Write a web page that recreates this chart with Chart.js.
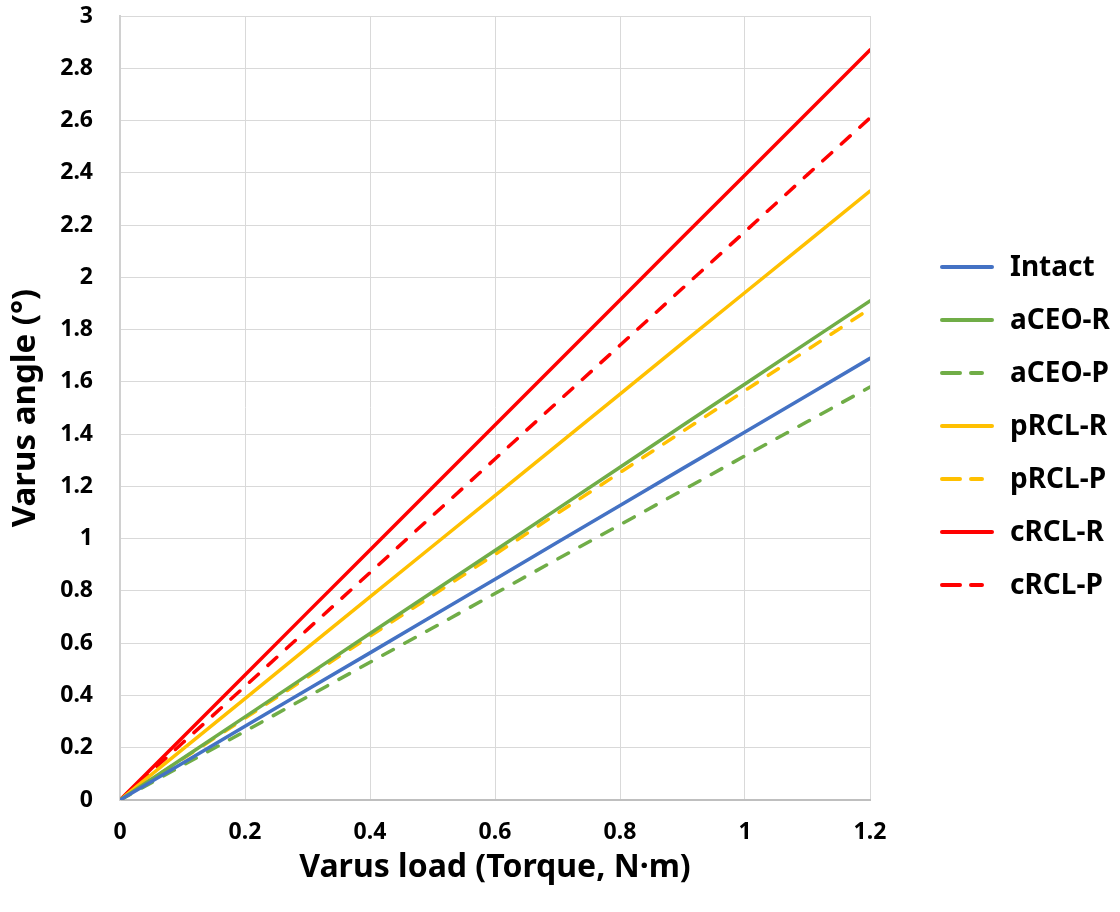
<!DOCTYPE html>
<html>
<head>
<meta charset="utf-8">
<script src="https://cdn.jsdelivr.net/npm/chart.js@4"></script>
<style>
  html, body { margin: 0; padding: 0; background: #fff; }
  #wrap { width: 1120px; height: 912px; }
</style>
</head>
<body>
<div id="wrap"><canvas id="chart" width="1120" height="912"></canvas></div>
<script>
const ctx = document.getElementById("chart").getContext('2d');

// varus load (N·m)
const loads = [0, 0.1, 0.2, 0.3, 0.4, 0.5, 0.6, 0.7, 0.8, 0.9, 1.0, 1.1, 1.2];

// varus angle (°)
const intact = [0, 0.141, 0.282, 0.423, 0.563, 0.704, 0.845, 0.986, 1.127, 1.268, 1.408, 1.549, 1.690];
const aceoR  = [0, 0.159, 0.318, 0.478, 0.637, 0.796, 0.955, 1.114, 1.273, 1.433, 1.592, 1.751, 1.910];
const aceoP  = [0, 0.132, 0.263, 0.395, 0.527, 0.658, 0.790, 0.922, 1.053, 1.185, 1.317, 1.448, 1.580];
const prclR  = [0, 0.194, 0.388, 0.583, 0.777, 0.971, 1.165, 1.359, 1.553, 1.748, 1.942, 2.136, 2.330];
const prclP  = [0, 0.157, 0.313, 0.470, 0.627, 0.783, 0.940, 1.097, 1.253, 1.410, 1.567, 1.723, 1.880];
const crclR  = [0, 0.239, 0.478, 0.718, 0.957, 1.196, 1.435, 1.674, 1.913, 2.153, 2.392, 2.631, 2.870];
const crclP  = [0, 0.218, 0.435, 0.653, 0.870, 1.088, 1.305, 1.523, 1.740, 1.958, 2.175, 2.393, 2.610];

const seriesNames = ['Intact', 'aCEO-R', 'aCEO-P', 'pRCL-R', 'pRCL-P', 'cRCL-R', 'cRCL-P'];
const seriesValues = [intact, aceoR, aceoP, prclR, prclP, crclR, crclP];
const seriesColors = ['#4472C4', '#70AD47', '#70AD47', '#FFC000', '#FFC000', '#FF0000', '#FF0000'];
const seriesDashed = [false, false, true, false, true, false, true];

const FONT = '"Noto Sans", "DejaVu Sans", sans-serif';

const datasets = seriesValues.map((vals, k) => ({
  label: seriesNames[k],
  data: vals.map((v, i) => ({ x: loads[i], y: v })),
  borderColor: seriesColors[k],
  backgroundColor: seriesColors[k],
  borderWidth: 3.5,
  borderCapStyle: 'round',
  borderDash: seriesDashed[k] ? [12, 13] : [],
  pointRadius: 0,
  tension: 0,
  fill: false
}));

// legend drawn by hand so it sits where the original one is
const sideLegend = {
  id: 'sideLegend',
  afterDraw(chart) {
    const c = chart.ctx;
    c.save();
    c.font = 'bold 28px ' + FONT;
    c.textBaseline = 'middle';
    chart.data.datasets.forEach((ds, k) => {
      const y = 267 + k * 53;
      const dashed = ds.borderDash.length > 0;
      c.strokeStyle = ds.borderColor;
      c.lineWidth = 4;
      c.lineCap = 'round';
      c.setLineDash(dashed ? [18, 11] : []);
      c.beginPath();
      c.moveTo(942, y);
      c.lineTo(dashed ? 982 : 992, y);
      c.stroke();
      c.setLineDash([]);
      c.fillStyle = '#000';
      c.fillText(ds.label, 1010, y + 1);
    });
    c.restore();
  }
};

const fmt = v => String(Number(v.toFixed(1)));

new Chart(ctx, {
  type: 'line',
  data: { datasets },
  options: {
    responsive: false,
    animation: false,
    layout: { padding: { top: 0, right: 250, left: 6, bottom: 0 } },
    plugins: {
      legend: { display: false },
      tooltip: { enabled: false }
    },
    scales: {
      x: {
        type: 'linear',
        min: 0, max: 1.2,
        afterFit: s => { s.height = 112; },
        ticks: { stepSize: 0.2, callback: fmt, color: '#000', padding: 19, font: { family: FONT, size: 23, weight: 'bold' } },
        grid: { color: '#d9d9d9', lineWidth: 1, drawTicks: false },
        border: { color: '#bfbfbf', width: 2 },
        title: { display: true, text: 'Varus load (Torque, N·m)', color: '#000', padding: { top: 0, bottom: 25 }, font: { family: FONT, size: 32, weight: 'bold' } }
      },
      y: {
        min: 0, max: 3,
        afterFit: s => { s.width = 114; s.paddingTop = 16; },
        ticks: { stepSize: 0.2, callback: fmt, color: '#000', padding: 27, font: { family: FONT, size: 23, weight: 'bold' } },
        grid: { color: '#d9d9d9', lineWidth: 1, drawTicks: false },
        border: { color: '#d0d0d0', width: 2 },
        title: { display: true, text: 'Varus angle (°)', color: '#000', padding: { top: 0, bottom: 0 }, font: { family: FONT, size: 33, weight: 'bold' } }
      }
    }
  },
  plugins: [sideLegend]
});
</script>
</body>
</html>
